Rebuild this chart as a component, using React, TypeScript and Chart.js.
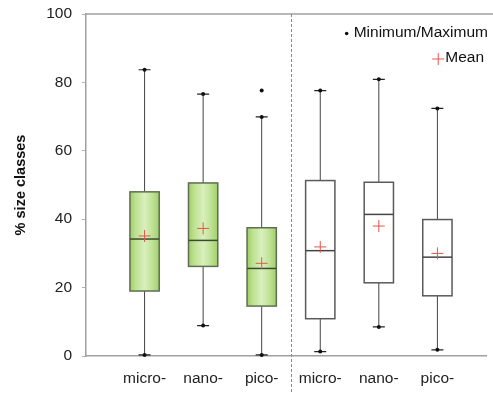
import React, { useEffect, useRef } from "react";
import { Chart, registerables } from "chart.js";

Chart.register(...registerables);

const categories = ["micro-", "nano-", "pico-", "micro-", "nano-", "pico-"];
const minValues = [0.3, 8.9, 0.3, 1.3, 8.5, 1.8];
const q1Values = [19.0, 26.2, 14.6, 10.9, 21.4, 17.6];
const medianValues = [34.2, 33.8, 25.6, 30.8, 41.4, 28.9];
const q3Values = [48.0, 50.6, 37.5, 51.3, 50.8, 39.9];
const maxValues = [83.7, 76.6, 69.9, 77.6, 80.9, 72.4];
const meanValues = [35.1, 37.3, 27.1, 31.9, 38.0, 30.0];
const filledGroup = [true, true, true, false, false, false];
const outlierCategory = [2];
const outlierValues = [77.6];
const yTicks = [0, 20, 40, 60, 80, 100];
const groupDivider = 3.5;

const FONT = "'Liberation Sans', Arial, sans-serif";
const MEAN_COLOR = "#e4564c";

const boxPlugin = {
  id: "boxes",
  beforeDatasetsDraw(chart: any) {
    const { ctx, chartArea, scales } = chart;
    const xs = scales.x;
    const ys = scales.y;
    const halfW = xs.getPixelForValue(1.25) - xs.getPixelForValue(1);
    const capW = 6;
    ctx.save();
    // top frame line
    ctx.strokeStyle = "#a0a0a0";
    ctx.lineWidth = 1.5;
    ctx.beginPath();
    ctx.moveTo(chartArea.left, chartArea.top);
    ctx.lineTo(chart.width, chartArea.top);
    ctx.stroke();
    // dashed divider
    const dx = Math.round(xs.getPixelForValue(groupDivider)) + 0.5;
    ctx.setLineDash([3, 2]);
    ctx.strokeStyle = "#8a8a8a";
    ctx.lineWidth = 1;
    ctx.beginPath();
    ctx.moveTo(dx, chartArea.top);
    ctx.lineTo(dx, chart.height - 3);
    ctx.stroke();
    ctx.setLineDash([]);

    categories.forEach((_, i) => {
      const cx = xs.getPixelForValue(i + 1);
      const yMin = ys.getPixelForValue(minValues[i]);
      const yQ1 = ys.getPixelForValue(q1Values[i]);
      const yMed = ys.getPixelForValue(medianValues[i]);
      const yQ3 = ys.getPixelForValue(q3Values[i]);
      const yMax = ys.getPixelForValue(maxValues[i]);
      // whiskers
      ctx.strokeStyle = "#444";
      ctx.lineWidth = 1;
      ctx.beginPath();
      ctx.moveTo(cx, yQ3);
      ctx.lineTo(cx, yMax);
      ctx.moveTo(cx, yQ1);
      ctx.lineTo(cx, yMin);
      ctx.stroke();
      // caps
      ctx.strokeStyle = "#222";
      ctx.lineWidth = 1.2;
      ctx.beginPath();
      ctx.moveTo(cx - capW, yMax);
      ctx.lineTo(cx + capW, yMax);
      ctx.moveTo(cx - capW, yMin);
      ctx.lineTo(cx + capW, yMin);
      ctx.stroke();
      ctx.fillStyle = "#111";
      [yMax, yMin].forEach((yy) => {
        ctx.beginPath();
        ctx.arc(cx, yy, 2, 0, Math.PI * 2);
        ctx.fill();
      });
      // box
      const left = cx - halfW;
      const w = halfW * 2;
      if (filledGroup[i]) {
        const g = ctx.createLinearGradient(left, 0, left + w, 0);
        g.addColorStop(0, "#9fcf68");
        g.addColorStop(0.2, "#bde291");
        g.addColorStop(0.5, "#d9efbd");
        g.addColorStop(0.7, "#c6e6a0");
        g.addColorStop(1, "#a2d06c");
        ctx.fillStyle = g;
        ctx.fillRect(left, yQ3, w, yQ1 - yQ3);
        ctx.strokeStyle = "#5f6e52";
      } else {
        ctx.fillStyle = "#ffffff";
        ctx.fillRect(left, yQ3, w, yQ1 - yQ3);
        ctx.strokeStyle = "#5a5a5a";
      }
      ctx.lineWidth = 1.5;
      ctx.strokeRect(left, yQ3, w, yQ1 - yQ3);
      // median
      ctx.strokeStyle = filledGroup[i] ? "#3d4a33" : "#444";
      ctx.lineWidth = 1.5;
      ctx.beginPath();
      ctx.moveTo(left, yMed);
      ctx.lineTo(left + w, yMed);
      ctx.stroke();
    });

    // legend
    ctx.fillStyle = "#111";
    ctx.font = `15.5px ${FONT}`;
    ctx.textAlign = "right";
    ctx.textBaseline = "middle";
    ctx.fillText("Minimum/Maximum", 488, 33);
    ctx.fillText("Mean", 484, 58);
    const mmW = ctx.measureText("Minimum/Maximum").width;
    ctx.beginPath();
    ctx.arc(488 - mmW - 7, 33.5, 1.8, 0, Math.PI * 2);
    ctx.fill();
    const meW = ctx.measureText("Mean").width;
    const mx = 484 - meW - 7;
    ctx.strokeStyle = MEAN_COLOR;
    ctx.lineWidth = 1;
    ctx.beginPath();
    ctx.moveTo(mx - 6, 59);
    ctx.lineTo(mx + 6, 59);
    ctx.moveTo(mx, 53);
    ctx.lineTo(mx, 65);
    ctx.stroke();
    ctx.restore();
  },
};

export default function App() {
  const ref = useRef<HTMLCanvasElement>(null);
  useEffect(() => {
    document.body.style.margin = "0";
    const chart = new Chart(ref.current!, {
      type: "scatter",
      data: {
        datasets: [
          {
            label: "Mean",
            data: meanValues.map((v, i) => ({ x: i + 1, y: v })),
            pointStyle: "cross",
            radius: 6,
            borderColor: MEAN_COLOR,
            backgroundColor: MEAN_COLOR,
            borderWidth: 1,
          },
          {
            label: "Outlier",
            data: outlierValues.map((v, i) => ({ x: outlierCategory[i] + 1, y: v })),
            pointStyle: "circle",
            radius: 2,
            borderWidth: 0,
            backgroundColor: "#111",
          },
        ],
      },
      options: {
        responsive: false,
        animation: false,
        layout: { padding: { top: 14, right: 2, left: 0, bottom: 0 } },
        plugins: { legend: { display: false }, tooltip: { enabled: false } },
        scales: {
          x: {
            type: "linear",
            min: 0,
            max: 6.83,
            afterBuildTicks: (s: any) => {
              s.ticks = categories.map((_, i) => ({ value: i + 1 }));
            },
            afterFit: (s: any) => {
              s.height = 40;
              s.paddingLeft = 0;
              s.paddingRight = 0;
            },
            ticks: {
              callback: (v: any) => categories[Number(v) - 1] ?? "",
              color: "#222",
              font: { family: FONT, size: 15.5 },
              padding: 5,
              maxRotation: 0,
              autoSkip: false,
            },
            grid: { display: false },
            border: { display: true, color: "#a0a0a0", width: 1.5 },
          },
          y: {
            min: 0,
            max: 100,
            afterBuildTicks: (s: any) => {
              s.ticks = yTicks.map((v) => ({ value: v }));
            },
            afterFit: (s: any) => {
              s.width = 86;
              s.paddingTop = 0;
              s.paddingBottom = 0;
            },
            ticks: {
              color: "#222",
              font: { family: FONT, size: 15.5 },
              padding: 10,
            },
            grid: {
              display: true,
              drawOnChartArea: false,
              drawTicks: true,
              tickLength: 4,
              color: "#b0b0b0",
            },
            border: { display: true, color: "#a0a0a0", width: 1.5 },
            title: {
              display: true,
              text: "% size classes",
              color: "#111",
              font: { family: FONT, size: 14.5, weight: "bold" },
              padding: { top: 12, bottom: 0 },
            },
          },
        },
      },
      plugins: [boxPlugin],
    });
    return () => chart.destroy();
  }, []);
  return (
    <div style={{ width: 493, height: 396 }}>
      <canvas ref={ref} width={493} height={396} />
    </div>
  );
}
